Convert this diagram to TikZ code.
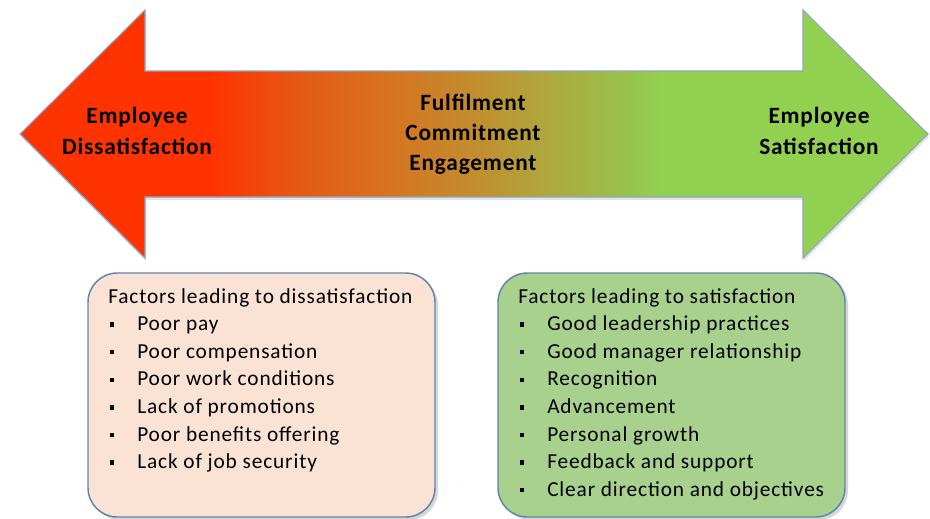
\documentclass[tikz,border=0pt]{standalone}
\usepackage{fontspec}
\setmainfont{Carlito}
\newfontfamily\arrowfont[LetterSpace=3.5]{Carlito}
\newfontfamily\boxfont[LetterSpace=4]{Carlito}
\definecolor{cRed}{RGB}{255,51,0}
\definecolor{cA}{RGB}{228,90,21}
\definecolor{cB}{RGB}{216,112,30}
\definecolor{cC}{RGB}{192,144,48}
\definecolor{cD}{RGB}{176,166,60}
\definecolor{cE}{RGB}{154,192,74}
\definecolor{cGreen}{RGB}{146,208,80}
\definecolor{arrowline}{RGB}{140,165,195}
\definecolor{boxline}{RGB}{94,132,176}
\definecolor{peach}{RGB}{250,227,213}
\definecolor{leaf}{RGB}{169,209,142}
\pgfdeclarehorizontalshading{arrowgrad}{100bp}{color(0bp)=(cRed); color(35.6bp)=(cRed); color(40.4bp)=(cA); color(44.8bp)=(cB); color(50.4bp)=(cC); color(53.7bp)=(cD); color(58bp)=(cE); color(60.3bp)=(cGreen); color(100bp)=(cGreen)}
\tikzset{
  arrowtxt/.style={font=\arrowfont\bfseries\fontsize{17.5pt}{21pt}\selectfont, inner sep=0pt, anchor=base},
  boxtxt/.style={font=\boxfont\fontsize{16pt}{19pt}\selectfont, inner sep=0pt, anchor=base west},
  bulletsq/.style={fill=black, inner sep=0pt, minimum size=3.3pt},
  factorbox/.style={draw=boxline, line width=1.1pt, rounded corners=22pt},
  shadowfill/.style={fill=black!35, opacity=0.45, rounded corners=22pt}
}
\begin{document}
\begin{tikzpicture}[x=0.75pt,y=-0.75pt]
\useasboundingbox (0,0) rectangle (930,518);
% arrow shadow
\fill[black!30, opacity=0.35] (21,137) -- (146,13) -- (146,74) -- (804,74) -- (804,13) -- (929,137) -- (804,261) -- (804,200) -- (146,200) -- (146,261) -- cycle;
% double arrow
\shadedraw[shading=arrowgrad, draw=arrowline, line width=0.8pt]
  (20,134) -- (145,10) -- (145,71) -- (803,71) -- (803,10) -- (928,134)
  -- (803,258) -- (803,197) -- (145,197) -- (145,258) -- cycle;
% arrow texts
\node[arrowtxt] (dis1) at (137,123) {Employee};
\node[arrowtxt] (dis2) at (137,154) {Dissatisfaction};
\node[arrowtxt] (mid1) at (473,110) {Fulfilment};
\node[arrowtxt] (mid2) at (473,140) {Commitment};
\node[arrowtxt] (mid3) at (473,170) {Engagement};
\node[arrowtxt] (sat1) at (819,123) {Employee};
\node[arrowtxt] (sat2) at (819,154) {Satisfaction};
% boxes
\fill[shadowfill] (91,276) rectangle (438,520);
\filldraw[factorbox, fill=peach] (88,273) rectangle (435,517);
\fill[shadowfill] (501,276) rectangle (848,520);
\filldraw[factorbox, fill=leaf] (498,273) rectangle (845,517);
% left box text
\node[boxtxt] (ltitle) at (108,303) {Factors leading to dissatisfaction};
\foreach \t [count=\i] in {Poor pay, Poor compensation, Poor work conditions, Lack of promotions, Poor benefits offering, Lack of job security}{
  \node[bulletsq] (lb\i) at (112,{297+27.6*\i}) {};
  \node[boxtxt] (li\i) at (137,{303+27.6*\i}) {\t};
}
% right box text
\node[boxtxt] (rtitle) at (518,303) {Factors leading to satisfaction};
\foreach \t [count=\i] in {Good leadership practices, Good manager relationship, Recognition, Advancement, Personal growth, Feedback and support, Clear direction and objectives}{
  \node[bulletsq] (rb\i) at (522,{297+27.6*\i}) {};
  \node[boxtxt] (ri\i) at (547,{303+27.6*\i}) {\t};
}
\end{tikzpicture}
\end{document}
